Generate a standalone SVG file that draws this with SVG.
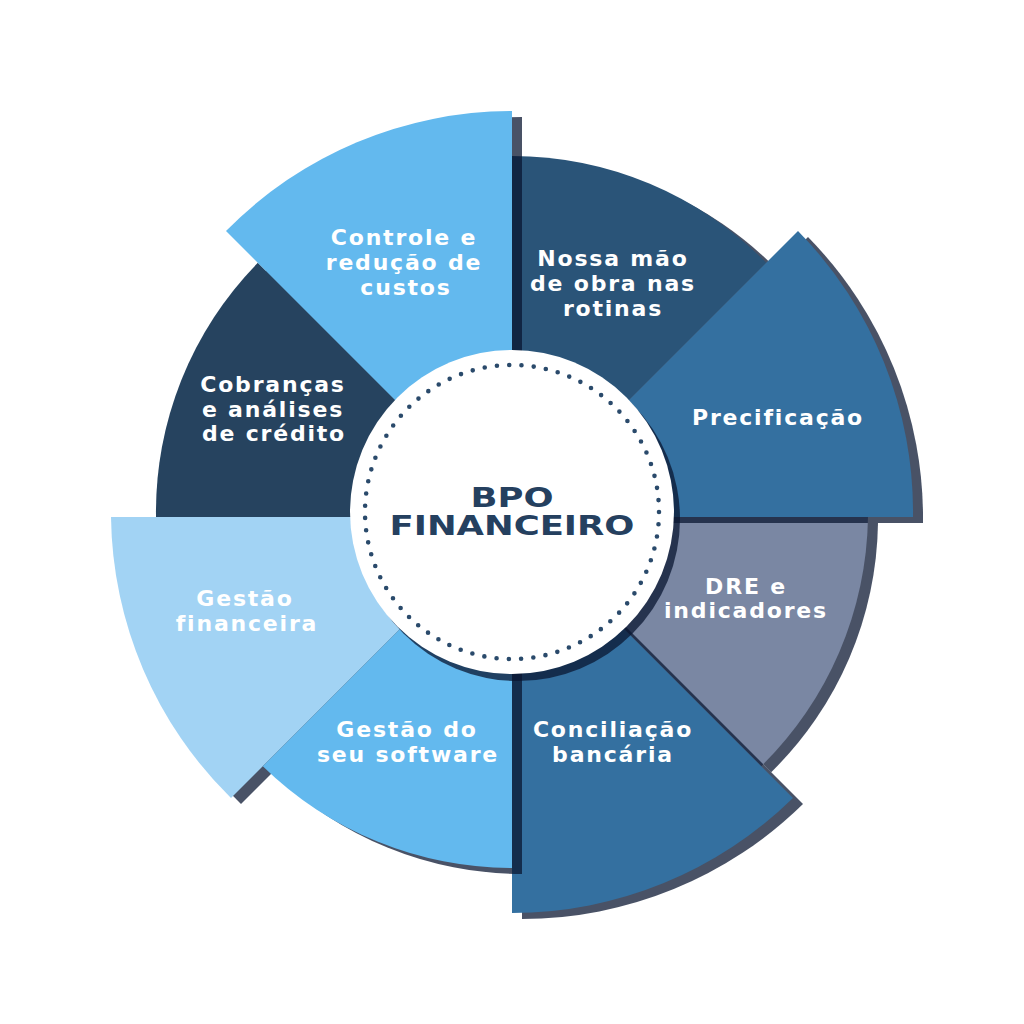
<svg xmlns="http://www.w3.org/2000/svg" xmlns:xlink="http://www.w3.org/1999/xlink" width="1024" height="1024" viewBox="0 0 1024 1024">
<style>
.sh { fill: #0a1530; fill-opacity: 0.74; }
.lbl { font-family: "DejaVu Sans", "Liberation Sans", sans-serif; font-weight: bold; font-size: 22px; fill: #ffffff; text-anchor: middle; letter-spacing: 1.8px; }
.ctr { font-family: "DejaVu Sans", "Liberation Sans", sans-serif; font-weight: bold; font-size: 27px; fill: #25405f; text-anchor: middle; }
</style>
<defs>
<path id="w1" d="M512,517 L512,156 A356,356 0 0 1 766.2,262.8 Z"/>
<path id="w2" d="M512,517 L798,231 A401,401 0 0 1 913,517 Z"/>
<path id="w3" d="M512,517 L868,517 A356,356 0 0 1 761.2,766.2 Z"/>
<path id="w4" d="M512,517 L793,798 A401,401 0 0 1 512,913 Z"/>
<path id="w5" d="M512,517 L512,868 A356,356 0 0 1 262.8,766.2 Z"/>
<path id="w6" d="M512,517 L231,798 A401,401 0 0 1 111,517 Z"/>
<path id="w7" d="M512,517 L156,517 A356,356 0 0 1 257.8,262.8 Z"/>
<path id="w8" d="M512,517 L226,231 A401,401 0 0 1 512,111 Z"/>
</defs>
<rect width="1024" height="1024" fill="#ffffff"/>
<g id="connectors"></g>
<g id="node-nossa">
<use xlink:href="#w1" href="#w1" class="sh" transform="translate(10,6)"/>
<use xlink:href="#w1" href="#w1" fill="#2a5478"/>
<text class="lbl" x="613" y="266">Nossa mão</text>
<text class="lbl" x="613" y="291">de obra nas</text>
<text class="lbl" x="613" y="316">rotinas</text>
</g>
<g id="node-dre">
<use xlink:href="#w3" href="#w3" class="sh" transform="translate(10,6)"/>
<use xlink:href="#w3" href="#w3" fill="#7a87a3"/>
<text class="lbl" x="746" y="594">DRE e</text>
<text class="lbl" x="746" y="618">indicadores</text>
</g>
<g id="node-cobrancas">
<use xlink:href="#w7" href="#w7" class="sh" transform="translate(10,6)"/>
<use xlink:href="#w7" href="#w7" fill="#26435f"/>
<text class="lbl" x="273" y="392">Cobranças</text>
<text class="lbl" x="273" y="417">e análises</text>
<text class="lbl" x="274" y="441">de crédito</text>
</g>
<g id="node-precificacao">
<use xlink:href="#w2" href="#w2" class="sh" transform="translate(10,6)"/>
<use xlink:href="#w2" href="#w2" fill="#3470a0"/>
<text class="lbl" x="778" y="425">Precificação</text>
</g>
<g id="node-conciliacao">
<use xlink:href="#w4" href="#w4" class="sh" transform="translate(10,6)"/>
<use xlink:href="#w4" href="#w4" fill="#3470a0"/>
<text class="lbl" x="613" y="737">Conciliação</text>
<text class="lbl" x="613" y="762">bancária</text>
</g>
<g id="node-gestao-financeira">
<use xlink:href="#w6" href="#w6" class="sh" transform="translate(10,6)"/>
<use xlink:href="#w6" href="#w6" fill="#a2d3f4"/>
<text class="lbl" x="245" y="606">Gestão</text>
<text class="lbl" x="247" y="631">financeira</text>
</g>
<g id="node-controle">
<use xlink:href="#w8" href="#w8" class="sh" transform="translate(10,6)"/>
<use xlink:href="#w8" href="#w8" fill="#63b9ee"/>
<text class="lbl" x="404" y="245">Controle e</text>
<text class="lbl" x="404" y="270">redução de</text>
<text class="lbl" x="406" y="295">custos</text>
</g>
<g id="node-gestao-software">
<use xlink:href="#w5" href="#w5" class="sh" transform="translate(10,6)"/>
<use xlink:href="#w5" href="#w5" fill="#63b9ee"/>
<text class="lbl" x="407" y="737">Gestão do</text>
<text class="lbl" x="408" y="762">seu software</text>
</g>
<g id="node-center">
<circle cx="518" cy="519" r="162" class="sh"/>
<circle cx="512" cy="512" r="162" fill="#ffffff"/>
<circle cx="512" cy="512" r="147" fill="none" stroke="#2a4a6b" stroke-width="4.6" stroke-linecap="round" stroke-dasharray="0 12.315"/>
<text class="ctr" x="512" y="507" textLength="83" lengthAdjust="spacingAndGlyphs">BPO</text>
<text class="ctr" x="512" y="535" textLength="245" lengthAdjust="spacingAndGlyphs">FINANCEIRO</text>
</g>
</svg>
